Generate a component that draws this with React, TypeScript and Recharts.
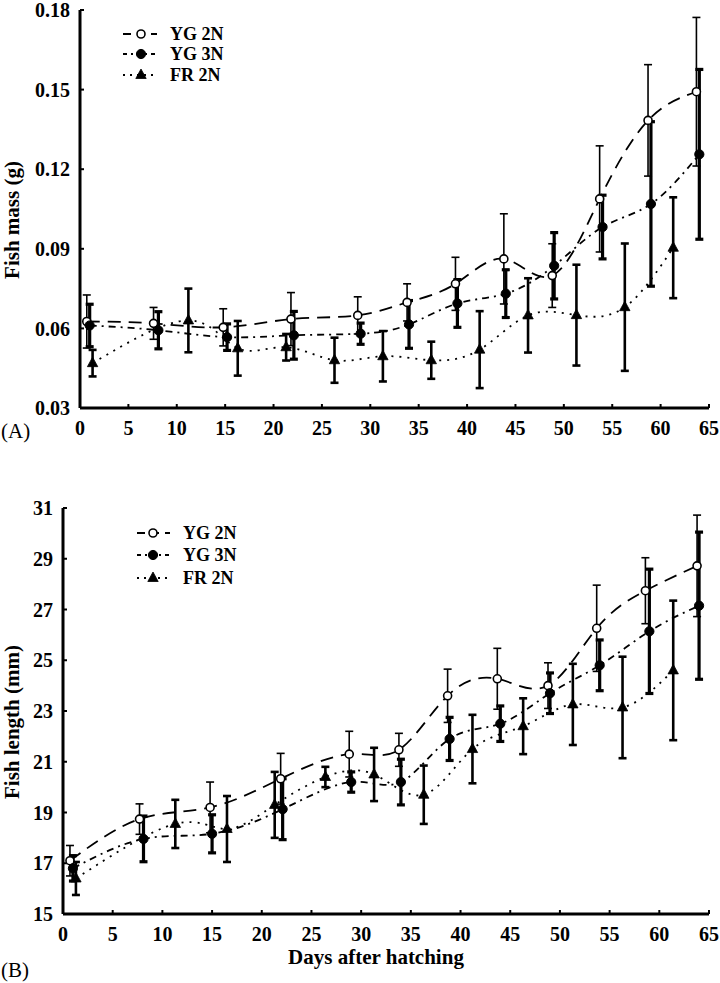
import React from 'react';
import { LineChart, Line, XAxis, YAxis, ErrorBar, Legend, Label } from 'recharts';

const FONT = '"Liberation Serif", "Times New Roman", serif';

// ---------- tick labels ----------
const dayTicks = [0, 5, 10, 15, 20, 25, 30, 35, 40, 45, 50, 55, 60, 65];
const massTicks = [0.03, 0.06, 0.09, 0.12, 0.15, 0.18];
const lengthTicks = [15, 17, 19, 21, 23, 25, 27, 29, 31];

// ---------- series names ----------
const seriesNames = ['YG 2N', 'YG 3N', 'FR 2N'];

// ---------- (A) Fish mass (g) ----------
const massDaysYG2N = [0.7, 7.6, 14.8, 21.8, 28.7, 33.8, 38.8, 43.8, 48.8, 53.7, 58.7, 63.7];
const massYG2N = [0.0626, 0.0619, 0.0604, 0.0635, 0.0649, 0.0698, 0.0768, 0.0862, 0.0799, 0.1088, 0.1384, 0.1492];
const massErrYG2N = [0.01, 0.006, 0.007, 0.01, 0.007, 0.007, 0.01, 0.017, 0.012, 0.02, 0.021, 0.028];

const massDaysYG3N = [1, 8.1, 15.2, 22.1, 29, 34, 39, 44, 49, 54, 59, 64];
const massYG3N = [0.0611, 0.0593, 0.0567, 0.0574, 0.058, 0.0615, 0.0694, 0.0731, 0.0836, 0.0982, 0.1069, 0.1256];
const massErrYG3N = [0.008, 0.007, 0.005, 0.009, 0.004, 0.009, 0.009, 0.009, 0.0125, 0.012, 0.031, 0.032];

const massDaysFR2N = [1.3, 11.2, 16.3, 21.3, 26.3, 31.3, 36.3, 41.3, 46.3, 51.3, 56.3, 61.3];
const massFR2N = [0.0469, 0.063, 0.0525, 0.0529, 0.048, 0.0495, 0.048, 0.052, 0.0649, 0.065, 0.068, 0.0904];
const massErrFR2N = [0.005, 0.012, 0.0103, 0.005, 0.0085, 0.0095, 0.007, 0.0145, 0.014, 0.019, 0.024, 0.019];

// ---------- (B) Fish length (mm) ----------
const lenDaysYG2N = [0.7, 7.7, 14.8, 21.9, 28.8, 33.8, 38.7, 43.7, 48.8, 53.7, 58.6, 63.8];
const lenYG2N = [17.1, 18.74, 19.2, 20.33, 21.3, 21.47, 23.6, 24.27, 24.0, 26.26, 27.74, 28.72];
const lenErrYG2N = [0.6, 0.6, 1.0, 1.0, 0.9, 0.65, 1.05, 1.2, 0.9, 1.7, 1.3, 2.0];

const lenDaysYG3N = [1, 8.1, 15, 22.1, 29, 34, 38.9, 44, 49, 54, 59, 64];
const lenYG3N = [16.8, 17.96, 18.16, 19.13, 20.2, 20.2, 21.9, 22.5, 23.7, 24.8, 26.14, 27.15];
const lenErrYG3N = [0.5, 0.9, 0.75, 1.2, 0.4, 0.9, 0.85, 0.7, 0.8, 1.0, 2.45, 2.9];

const lenDaysFR2N = [1.3, 11.3, 16.5, 21.3, 26.4, 31.3, 36.3, 41.2, 46.3, 51.3, 56.3, 61.4];
const lenFR2N = [16.4, 18.55, 18.35, 19.3, 20.4, 20.5, 19.7, 21.5, 22.4, 23.26, 23.14, 24.6];
const lenErrFR2N = [0.65, 0.95, 1.3, 1.3, 0.4, 1.05, 1.15, 1.35, 1.1, 1.6, 2.0, 2.75];

type Row = { day: number; v: number; err: number };
const build = (days: number[], vals: number[], errs: number[]): Row[] =>
  days.map((d, i) => ({ day: d, v: vals[i], err: errs[i] }));

const massData = [
  build(massDaysYG2N, massYG2N, massErrYG2N),
  build(massDaysYG3N, massYG3N, massErrYG3N),
  build(massDaysFR2N, massFR2N, massErrFR2N),
];
const lenData = [
  build(lenDaysYG2N, lenYG2N, lenErrYG2N),
  build(lenDaysYG3N, lenYG3N, lenErrYG3N),
  build(lenDaysFR2N, lenFR2N, lenErrFR2N),
];

const styles = [
  { dash: '13 8', width: 1.8, errWidth: 1.6, marker: 'open' },
  { dash: '7 5 2 5', width: 1.8, errWidth: 3.2, marker: 'filled' },
  { dash: '2 6', width: 1.8, errWidth: 2.6, marker: 'tri' },
];

function marker(kind: string, cx: number, cy: number, key?: string) {
  if (kind === 'open') return <circle key={key} cx={cx} cy={cy} r={4} fill="#fff" stroke="#000" strokeWidth={1.6} />;
  if (kind === 'filled') return <circle key={key} cx={cx} cy={cy} r={4.6} fill="#000" stroke="#000" />;
  return (
    <path
      key={key}
      d={`M${cx},${cy - 6} L${cx + 5.2},${cy + 3.5} L${cx - 5.2},${cy + 3.5} Z`}
      fill="#000"
      stroke="#000"
      strokeWidth={0.8}
    />
  );
}

const makeDot = (kind: string, id: string) => (p: any) => marker(kind, p.cx, p.cy, `${id}-${p.index}`);

const makeLegend = (sampleX0: number, sampleX1: number, markX: number, textX: number, rows: number[]) => () => (
  <svg width={140} height={75} style={{ display: 'block', overflow: 'visible' }}>
    {seriesNames.map((n, i) => (
      <g key={n}>
        <line x1={sampleX0} y1={rows[i]} x2={sampleX1} y2={rows[i]} stroke="#000" strokeWidth={1.8} strokeDasharray={i === 0 ? '8 6' : i === 1 ? '4 4 2 4' : '2 5'} />
        {marker(styles[i].marker, markX, rows[i])}
        <text x={textX} y={rows[i] + 6} fontFamily={FONT} fontWeight="bold" fontSize={18} fill="#000">
          {n}
        </text>
      </g>
    ))}
  </svg>
);

const tickStyle = { fontFamily: FONT, fontWeight: 'bold' as const, fontSize: 20, fill: '#000' };
const axisLine = { stroke: '#000', strokeWidth: 3 };
const tickLine = { stroke: '#000', strokeWidth: 2 };

function renderSeries(data: Row[][], prefix: string) {
  return data.map((d, i) => (
    <Line
      key={`${prefix}${i}`}
      data={d}
      dataKey="v"
      name={seriesNames[i]}
      type="natural"
      stroke="#000"
      strokeWidth={styles[i].width}
      strokeDasharray={styles[i].dash}
      dot={makeDot(styles[i].marker, `${prefix}${i}`)}
      activeDot={false}
      isAnimationActive={false}
      legendType="none"
    >
      <ErrorBar dataKey="err" direction="y" width={4} stroke="#000" strokeWidth={styles[i].errWidth} />
    </Line>
  ));
}

export default function App() {
  return (
    <div style={{ position: 'absolute', left: 0, top: 0, width: 720, height: 983, background: '#fff' }}>
      {/* Panel A */}
      <div style={{ position: 'absolute', left: 0, top: 0 }}>
        <LineChart width={720} height={450} margin={{ top: 10, right: 11, bottom: 12, left: 0 }}>
          <XAxis
            type="number"
            dataKey="day"
            domain={[0, 65]}
            ticks={dayTicks}
            interval={0}
            allowDuplicatedCategory={false}
            height={30}
            axisLine={axisLine}
            tickLine={tickLine}
            tickSize={-4}
            tickMargin={17}
            tick={tickStyle}
          >
            <Label
              content={() => (
                <text x={1} y={438} fontFamily={FONT} fontSize={21} fill="#000">
                  (A)
                </text>
              )}
            />
          </XAxis>
          <YAxis
            type="number"
            domain={[0.03, 0.18]}
            ticks={massTicks}
            interval={0}
            width={80}
            axisLine={axisLine}
            tickLine={tickLine}
            tickSize={-4}
            tickMargin={14}
            tick={tickStyle}
            tickFormatter={(v: number) => v.toFixed(2)}
          >
            <Label
              content={() => (
                <text x={19} y={220} transform="rotate(-90 19 220)" textAnchor="middle" fontFamily={FONT} fontWeight="bold" fontSize={21} fill="#000">
                  Fish mass (g)
                </text>
              )}
            />
          </YAxis>
          <Legend
            layout="vertical"
            verticalAlign="middle"
            align="center"
            wrapperStyle={{ position: 'absolute', left: 118, top: 21, width: 140, height: 75 }}
            content={makeLegend(5, 39, 23, 52, [13, 33, 54])}
          />
          {renderSeries(massData, 'm')}
        </LineChart>
      </div>

      {/* Panel B */}
      <div style={{ position: 'absolute', left: 0, top: 450 }}>
        <LineChart width={720} height={533} margin={{ top: 58, right: 11, bottom: 39, left: 0 }}>
          <XAxis
            type="number"
            dataKey="day"
            domain={[0, 65]}
            ticks={dayTicks}
            interval={0}
            allowDuplicatedCategory={false}
            height={30}
            axisLine={axisLine}
            tickLine={tickLine}
            tickSize={-4}
            tickMargin={17}
            tick={tickStyle}
          >
            <Label
              content={() => (
                <g>
                  <text x={1} y={527} fontFamily={FONT} fontSize={21} fill="#000">
                    (B)
                  </text>
                  <text x={376} y={514} textAnchor="middle" fontFamily={FONT} fontWeight="bold" fontSize={21} fill="#000">
                    Days after hatching
                  </text>
                </g>
              )}
            />
          </XAxis>
          <YAxis
            type="number"
            domain={[15, 31]}
            ticks={lengthTicks}
            interval={0}
            width={63}
            axisLine={axisLine}
            tickLine={tickLine}
            tickSize={-4}
            tickMargin={14}
            tick={tickStyle}
          >
            <Label
              content={() => (
                <text x={19} y={272} transform="rotate(-90 19 272)" textAnchor="middle" fontFamily={FONT} fontWeight="bold" fontSize={21} fill="#000">
                  Fish length (mm)
                </text>
              )}
            />
          </YAxis>
          <Legend
            layout="vertical"
            verticalAlign="middle"
            align="center"
            wrapperStyle={{ position: 'absolute', left: 132, top: 70, width: 140, height: 75 }}
            content={makeLegend(5, 38, 21, 51, [13, 35, 58])}
          />
          {renderSeries(lenData, 'l')}
        </LineChart>
      </div>
    </div>
  );
}
